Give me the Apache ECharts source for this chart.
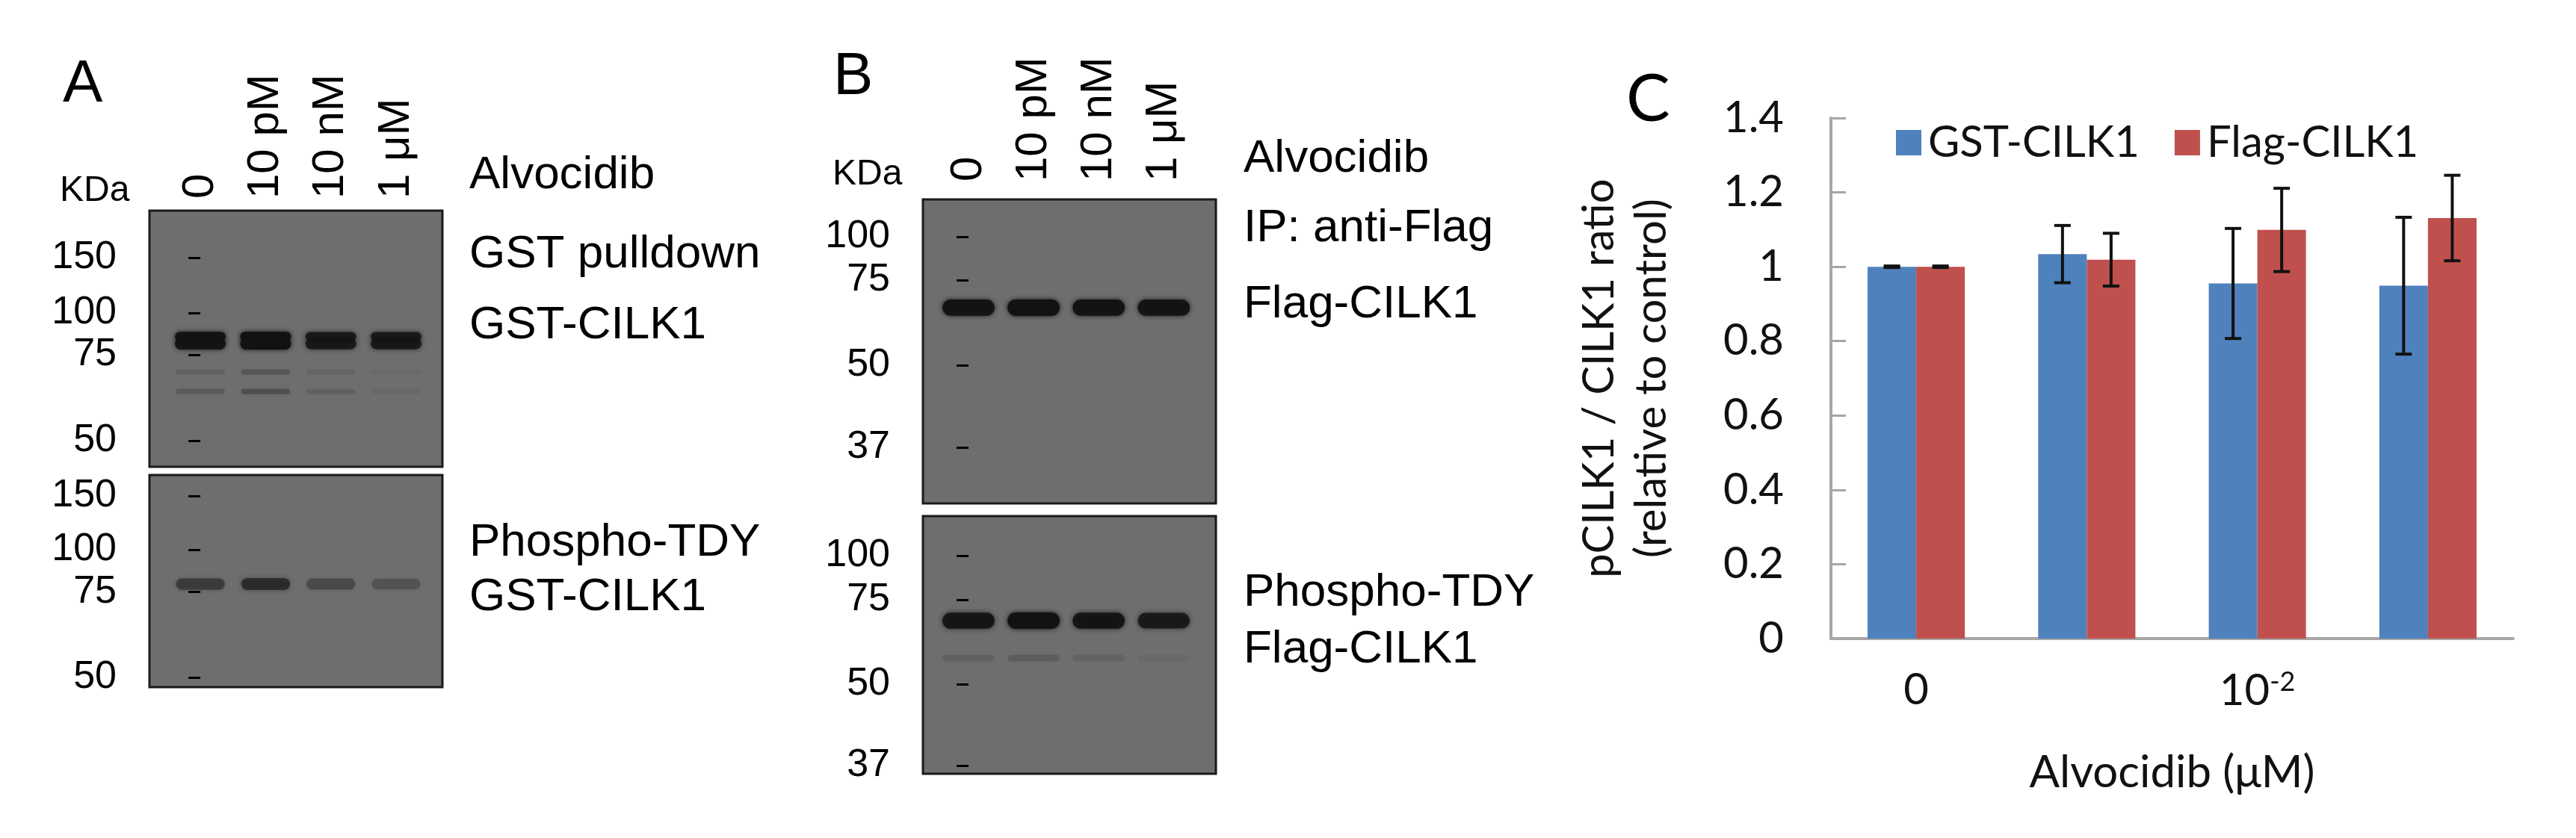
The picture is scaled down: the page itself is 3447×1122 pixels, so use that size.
<!DOCTYPE html>
<html><head><meta charset="utf-8">
<script src="https://cdn.jsdelivr.net/npm/echarts@6/dist/echarts.min.js"></script>
<style>html,body{margin:0;padding:0;background:#fff}#c{width:3447px;height:1122px}</style>
</head><body><div id="c"></div>
<script>
// ---- Data ----
const lanes = ['0', '10 pM', '10 nM', '1 μM'];
// Blot markers (relative migration, 0 = top of membrane)
const markersA = ['150', '100', '75', '50'];
const rfA1 = [0.184, 0.399, 0.563, 0.898];
const rfA2 = [0.099, 0.352, 0.55, 0.954];
const markersB = ['100', '75', '50', '37'];
const rfB1 = [0.123, 0.265, 0.545, 0.816];
const rfB2 = [0.154, 0.325, 0.652, 0.968];
// Band intensities per lane
const bandA1 = [0.92, 1.0, 0.82, 0.82];      // GST-CILK1 (pulldown)
const bandA1faint1 = [0.12, 0.22, 0.08, 0.04];
const bandA1faint2 = [0.18, 0.28, 0.12, 0.06];
const bandA2 = [0.45, 0.6, 0.33, 0.25];      // phospho-TDY GST-CILK1
const bandB1 = [0.95, 1.0, 0.95, 0.93];      // Flag-CILK1
const bandB2 = [0.88, 1.0, 0.9, 0.8];        // phospho-TDY Flag-CILK1
const bandB2faint = [0.12, 0.16, 0.1, 0.05];
// Bar chart
const doses = ['0', '10^-5', '10^-2', '1'];
const gstVals = [1.0, 1.034, 0.955, 0.949];
const gstErr = [0.002, 0.077, 0.148, 0.184];
const flagVals = [1.0, 1.019, 1.099, 1.131];
const flagErr = [0.002, 0.071, 0.112, 0.115];
const yTicks = [0, 0.2, 0.4, 0.6, 0.8, 1, 1.2, 1.4];

const chart = echarts.init(document.getElementById('c'));
const gel = '#6e6e6e';
const blotFont = 'Liberation Sans';
const barFont = 'Lato';

function blotGrid(left, top, h) {
  return {left: left, top: top, width: 392, height: h, show: true, backgroundColor: gel,
          borderColor: '#1a1a1a', borderWidth: 3, containLabel: false};
}
function blotX(gi, min, max, showLanes) {
  return {type: 'value', gridIndex: gi, min: min, max: max, position: 'top',
    axisLine: {show: false}, axisTick: {show: false}, splitLine: {show: false},
    axisLabel: {show: showLanes, customValues: [0, 1, 2, 3], rotate: 90, margin: showLanes === 'B' ? 24 : 16,
      formatter: v => lanes[Math.round(v)], fontFamily: blotFont, fontSize: 60, color: '#000'}};
}
function blotY(gi, rf, labels) {
  return {type: 'value', gridIndex: gi, min: 0, max: 1, inverse: true, offset: 9,
    axisLine: {show: false}, splitLine: {show: false},
    axisTick: {show: true, customValues: rf, length: 16, lineStyle: {color: '#000', width: 3}},
    axisLabel: {customValues: rf, margin: 35, fontFamily: blotFont, fontSize: 52, color: '#000',
      formatter: v => { let i = rf.findIndex(r => Math.abs(r - v) < 1e-6); return i >= 0 ? labels[i] : ''; }}};
}
function bandSeries(gi, intens, rf, hpx, wfrac) {
  return {type: 'custom', xAxisIndex: gi, yAxisIndex: gi, silent: true,
    data: intens.map((v, i) => [i, rf, v]),
    renderItem: function (params, api) {
      const c = api.coord([api.value(0), api.value(1)]);
      const lw = api.size([1, 0])[0] * wfrac;
      const a = api.value(2);
      const h = hpx * (0.85 + 0.25 * a);
      return {type: 'rect', shape: {x: c[0] - lw / 2, y: c[1] - h / 2, width: lw, height: h, r: h / 2},
        style: {fill: 'rgba(18,18,18,' + a + ')', shadowBlur: 6, shadowColor: 'rgba(18,18,18,' + a + ')'}};
    }};
}

const errData = [];
gstVals.forEach((v, i) => errData.push([i, v, gstErr[i], -1]));
flagVals.forEach((v, i) => errData.push([i, v, flagErr[i], 1]));

function txt(x, y, s, size, extra) {
  return Object.assign({type: 'text', left: x, top: y, z: 100,
    style: {text: s, font: size + 'px "' + blotFont + '"', fill: '#000'}}, extra || {});
}

chart.setOption({
  animation: false,
  backgroundColor: '#fff',
  grid: [blotGrid(200, 282, 343), blotGrid(200, 636, 284), blotGrid(1235, 267, 407), blotGrid(1235, 691, 345),
         {left: 2450, top: 158, width: 913, height: 697}],
  xAxis: [blotX(0, -0.78, 3.71, 'A'), blotX(1, -0.78, 3.71, false), blotX(2, -0.7, 3.8, 'B'), blotX(3, -0.7, 3.8, false),
    {type: 'category', gridIndex: 4, data: doses,
      axisLine: {lineStyle: {color: '#a6a6a6', width: 4}},
      axisTick: {inside: true, length: 20, interval: 0, lineStyle: {color: '#a6a6a6', width: 3}},
      axisLabel: {margin: 40, fontFamily: barFont, fontSize: 58, color: '#111',
        formatter: v => { const p = v.split('^'); return p.length > 1 ? p[0] + '{s|' + p[1] + '}' : v; },
        rich: {s: {fontSize: 36, fontFamily: barFont, color: '#111', verticalAlign: 'top', padding: [0, 0, 24, 0]}}},
      name: 'Alvocidib (μM)', nameLocation: 'middle', nameGap: 150,
      nameTextStyle: {fontFamily: barFont, fontSize: 60, color: '#111'}}],
  yAxis: [blotY(0, rfA1, markersA), blotY(1, rfA2, markersA), blotY(2, rfB1, markersB), blotY(3, rfB2, markersB),
    {type: 'value', gridIndex: 4, min: 0, max: 1.4, interval: 0.2,
      axisLine: {show: true, lineStyle: {color: '#a6a6a6', width: 4}},
      axisTick: {show: true, inside: true, length: 20, lineStyle: {color: '#a6a6a6', width: 3}},
      splitLine: {show: false},
      axisLabel: {margin: 63, fontFamily: barFont, fontSize: 58, color: '#111',
        formatter: v => yTicks.includes(+v.toFixed(1)) ? String(+v.toFixed(1)) : ''},
      name: 'pCILK1 / CILK1 ratio\n(relative to control)', nameLocation: 'middle', nameGap: 205, nameRotate: 90,
      nameTextStyle: {fontFamily: barFont, fontSize: 58, color: '#111', lineHeight: 70}}],
  legend: {left: 2532, top: 157, itemWidth: 34, itemHeight: 34, itemGap: 47, icon: 'rect',
    data: ['GST-CILK1', 'Flag-CILK1'],
    textStyle: {fontFamily: barFont, fontSize: 58, color: '#111', padding: [0, 0, 0, 4]}},
  series: [
    bandSeries(0, bandA1faint1, 0.63, 8, 0.75),
    bandSeries(0, bandA1faint2, 0.706, 8, 0.75),
    bandSeries(0, bandA1, 0.492, 12, 0.78),
    bandSeries(0, bandA1, 0.52, 14, 0.78),
    bandSeries(1, bandA2, 0.514, 16, 0.75),
    bandSeries(2, bandB1, 0.356, 20, 0.8),
    bandSeries(3, bandB2, 0.406, 20, 0.8),
    bandSeries(3, bandB2faint, 0.551, 10, 0.8),
    {name: 'GST-CILK1', type: 'bar', xAxisIndex: 4, yAxisIndex: 4, data: gstVals,
      barWidth: '28.5%', barGap: '0%', itemStyle: {color: '#4f81bd'}},
    {name: 'Flag-CILK1', type: 'bar', xAxisIndex: 4, yAxisIndex: 4, data: flagVals,
      barWidth: '28.5%', barGap: '0%', itemStyle: {color: '#c0504d'}},
    {type: 'custom', xAxisIndex: 4, yAxisIndex: 4, data: errData, z: 10, silent: true,
      renderItem: function (params, api) {
        const i = api.value(0), v = api.value(1), e = api.value(2), s = api.value(3);
        const bw = api.size([1, 0])[0];
        const x = api.coord([i, v])[0] + s * 0.1425 * bw;
        const yt = api.coord([i, v + e])[1], yb = api.coord([i, v - e])[1];
        const st = {stroke: '#111', lineWidth: 4};
        return {type: 'group', children: [
          {type: 'line', shape: {x1: x, y1: yt, x2: x, y2: yb}, style: st},
          {type: 'line', shape: {x1: x - 11, y1: yt, x2: x + 11, y2: yt}, style: st},
          {type: 'line', shape: {x1: x - 11, y1: yb, x2: x + 11, y2: yb}, style: st}]};
      }}
  ],
  graphic: [
    txt(84, 74, 'A', 80),
    txt(80, 232, 'KDa', 48),
    txt(628, 204, 'Alvocidib', 62),
    txt(628, 310, 'GST pulldown', 62),
    txt(628, 405, 'GST-CILK1', 62),
    txt(628, 696, 'Phospho-TDY', 62),
    txt(628, 769, 'GST-CILK1', 62),
    txt(1115, 64, 'B', 80),
    txt(1114, 210, 'KDa', 48),
    txt(1664, 182, 'Alvocidib', 62),
    txt(1664, 275, 'IP: anti-Flag', 62),
    txt(1664, 377, 'Flag-CILK1', 62),
    txt(1664, 763, 'Phospho-TDY', 62),
    txt(1664, 839, 'Flag-CILK1', 62),
    {type: 'text', left: 2176, top: 90, z: 100, style: {text: 'C', font: '88px "' + barFont + '"', fill: '#000'}}
  ]
});
</script></body></html>
